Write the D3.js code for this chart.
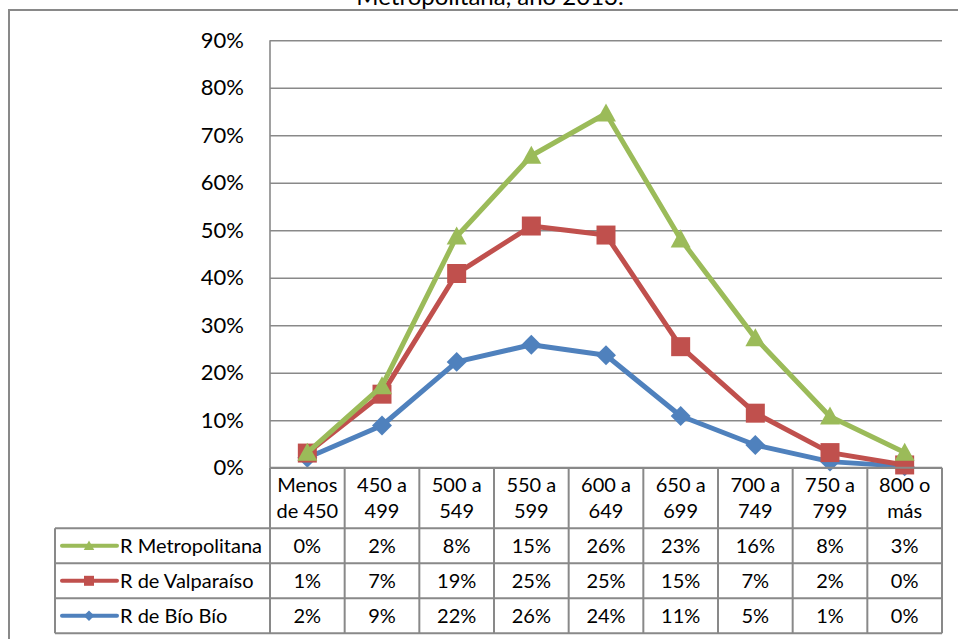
<!DOCTYPE html>
<html><head><meta charset="utf-8">
<script src="https://cdn.jsdelivr.net/npm/d3@7"></script>
<style>
body{margin:0;background:#fff}
svg{display:block}
text{font-family:Lato,"Open Sans",sans-serif;fill:#000}
</style>
</head><body>
<svg id="c" width="958" height="639"></svg>
<script>
// ---- data ----
const categories = ["Menos de 450","450 a 499","500 a 549","550 a 599","600 a 649","650 a 699","700 a 749","750 a 799","800 o más"];
const categoryLines = [["Menos","de 450"],["450 a","499"],["500 a","549"],["550 a","599"],["600 a","649"],["650 a","699"],["700 a","749"],["750 a","799"],["800 o","más"]];
const seriesNames = ["R Metropolitana","R de Valparaíso","R de Bío Bío"];
const metropolitana = [0.1,1.7,7.8,14.8,25.6,22.6,15.8,7.6,2.6];
const valparaiso    = [1.0,6.6,18.6,25.0,25.3,14.6,6.7,1.9,0.3];
const bioBio        = [2.1,8.9,22.3,25.9,23.7,10.9,4.8,1.3,0.3];
const yTicks = [0,10,20,30,40,50,60,70,80,90];
const titleText = "Metropolitana, año 2013.";

const colors = {"R Metropolitana":"#9BBB59","R de Valparaíso":"#C0504D","R de Bío Bío":"#4F81BD"};
const shapes = {"R Metropolitana":"triangle","R de Valparaíso":"square","R de Bío Bío":"diamond"};
const seriesValues = {"R Metropolitana":metropolitana,"R de Valparaíso":valparaiso,"R de Bío Bío":bioBio};

const gray = "#898989";
const svg = d3.select("#c");

// frame
svg.append("path").attr("d","M9,639 V10 H958").attr("fill","none").attr("stroke",gray).attr("stroke-width",2);
// title (cut off at the top, as in the original)
svg.append("text").attr("x",490).attr("y",5).attr("text-anchor","middle").attr("font-size",24).text(titleText);

const plot = {left:270,right:942,top:40.3,bottom:467.8};
const x = d3.scaleBand().domain(categories).range([plot.left,plot.right]).padding(0);
const y = d3.scaleLinear().domain([0,90]).range([plot.bottom,plot.top]);
const cx = c => x(c)+x.bandwidth()/2;

// grid + y axis
const yAxis = d3.axisLeft(y).tickValues(yTicks).tickSize(-(plot.right-plot.left)).tickPadding(26).tickFormat(d=>d+"%");
const gy = svg.append("g").attr("transform",`translate(${plot.left},0)`).call(yAxis);
gy.select(".domain").remove();
gy.selectAll(".tick line").attr("stroke",gray).attr("stroke-width",1.6);
gy.selectAll(".tick text").attr("font-size",22).attr("font-family","Lato").attr("fill","#000");
// vertical axis line
svg.append("line").attr("x1",plot.left).attr("x2",plot.left).attr("y1",plot.top).attr("y2",plot.bottom).attr("stroke",gray).attr("stroke-width",1.6);

// stacking
const stackOrder = ["R de Bío Bío","R de Valparaíso","R Metropolitana"];
const rows = categories.map((c,i)=>{const o={cat:c}; seriesNames.forEach(s=>o[s]=seriesValues[s][i]); return o;});
const stacked = d3.stack().keys(stackOrder)(rows);

function markerPath(shape,size){
  const h=size/2;
  if(shape==="triangle") return `M0,${-h*1.05} L${h*1.05},${h*0.85} L${-h*1.05},${h*0.85} Z`;
  if(shape==="square") return `M${-h},${-h} H${h} V${h} H${-h} Z`;
  return `M0,${-h*1.05} L${h*1.05},0 L0,${h*1.05} L${-h*1.05},0 Z`;
}

stacked.forEach(layer=>{
  const name = layer.key;
  const pts = layer.map(d=>[cx(d.data.cat), y(d[1])]);
  svg.append("path").attr("d",d3.line()(pts)).attr("fill","none")
     .attr("stroke",colors[name]).attr("stroke-width",5).attr("stroke-linejoin","round");
  svg.append("g").selectAll("path").data(pts).join("path")
     .attr("transform",d=>`translate(${d[0]},${d[1]})`)
     .attr("d",markerPath(shapes[name],19)).attr("fill",colors[name]);
});

// data table
const headerTop = plot.bottom, headerBottom = 528.3, rowH = 35, legendLeft = 55;
const tableBottom = headerBottom + rowH*seriesNames.length;
const tg = svg.append("g");
tg.append("line").attr("x1",plot.left).attr("x2",plot.right).attr("y1",headerTop).attr("y2",headerTop).attr("stroke",gray).attr("stroke-width",2);
for(let r=0;r<=seriesNames.length;r++){
  const yy = headerBottom + r*rowH;
  tg.append("line").attr("x1",legendLeft).attr("x2",plot.right).attr("y1",yy).attr("y2",yy).attr("stroke",gray).attr("stroke-width",2);
}
categories.forEach(c=>{
  tg.append("line").attr("x1",x(c)).attr("x2",x(c)).attr("y1",headerTop).attr("y2",tableBottom).attr("stroke",gray).attr("stroke-width",2);
});
tg.append("line").attr("x1",plot.right).attr("x2",plot.right).attr("y1",headerTop).attr("y2",tableBottom).attr("stroke",gray).attr("stroke-width",2);
tg.append("line").attr("x1",legendLeft).attr("x2",legendLeft).attr("y1",headerBottom).attr("y2",tableBottom).attr("stroke",gray).attr("stroke-width",2);

// header labels
categories.forEach((c,i)=>{
  const t = tg.append("text").attr("x",cx(c)).attr("text-anchor","middle").attr("font-size",20);
  t.append("tspan").attr("x",cx(c)).attr("y",492).text(categoryLines[i][0]);
  t.append("tspan").attr("x",cx(c)).attr("y",517.5).text(categoryLines[i][1]);
});

// rows
seriesNames.forEach((s,r)=>{
  const mid = headerBottom + r*rowH + rowH/2;
  tg.append("line").attr("x1",62).attr("x2",117).attr("y1",mid).attr("y2",mid).attr("stroke",colors[s]).attr("stroke-width",4).attr("stroke-linecap","round");
  tg.append("path").attr("transform",`translate(89,${mid})`).attr("d",markerPath(shapes[s],10)).attr("fill",colors[s]);
  tg.append("text").attr("x",120).attr("y",mid).attr("dy","0.35em").attr("font-size",20).text(s);
  categories.forEach((c,i)=>{
    tg.append("text").attr("x",cx(c)).attr("y",mid).attr("dy","0.35em").attr("text-anchor","middle").attr("font-size",20)
      .text(Math.round(seriesValues[s][i])+"%");
  });
});
</script>
</body></html>
